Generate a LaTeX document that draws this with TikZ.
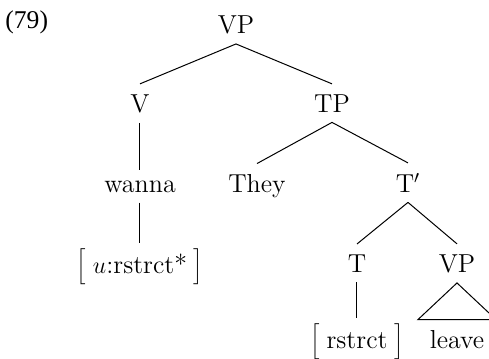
\documentclass[tikz,border=0pt]{standalone}
\usepackage{fontspec}
\newfontfamily\exfont{Liberation Serif}
\usetikzlibrary{calc}
\begin{document}
\begin{tikzpicture}[x=0.5pt,y=-0.5pt,
  lbl/.style={anchor=base,inner xsep=2pt,inner ysep=5pt,font=\fontsize{13}{15.6}\selectfont},
  branch/.style={line width=0.5pt}]
\useasboundingbox (0,0) rectangle (489,359);
% example number
\node[anchor=base west,inner sep=0pt,font=\exfont\fontsize{12.8}{15}\selectfont] (ex) at (5,28) {(79)};
% tree nodes
\node[lbl] (vp)    at (236,33)  {VP};
\node[lbl] (v)     at (140,112) {V};
\node[lbl] (tp)    at (332,112) {TP};
\node[lbl] (wanna) at (140,192) {wanna};
\node[lbl,inner ysep=3pt] (feat1) at (140,273) {$\Big[\;u$:rstrct*$\;\Big]$};
\node[lbl] (they)  at (257,192) {They};
\node[lbl] (tbar)  at (408,192) {T$'$};
\node[lbl] (t)     at (357,272) {T};
\node[lbl] (vp2)   at (457,272) {VP};
\node[lbl,inner ysep=3pt] (feat2) at (357,348) {$\Big[\;$rstrct$\;\Big]$};
\node[lbl] (leave) at (457,348) {leave};
% branches
\draw[branch] (vp.south) -- (v.north);
\draw[branch] (vp.south) -- (tp.north);
\draw[branch] (v.south) -- (wanna.north);
\draw[branch] (wanna.south) -- (feat1.north);
\draw[branch] (tp.south) -- (they.north);
\draw[branch] (tp.south) -- (tbar.north);
\draw[branch] (tbar.south) -- (t.north);
\draw[branch] (tbar.south) -- (vp2.north);
\draw[branch] (t.south) -- (feat2.north);
% roof over the VP leaf
\coordinate (roofL) at ($(leave.north)+(-39,0)$);
\coordinate (roofR) at ($(leave.north)+(39,0)$);
\draw[branch,line join=miter] (vp2.south) -- (roofL) -- (roofR) -- cycle;
\end{tikzpicture}
\end{document}
